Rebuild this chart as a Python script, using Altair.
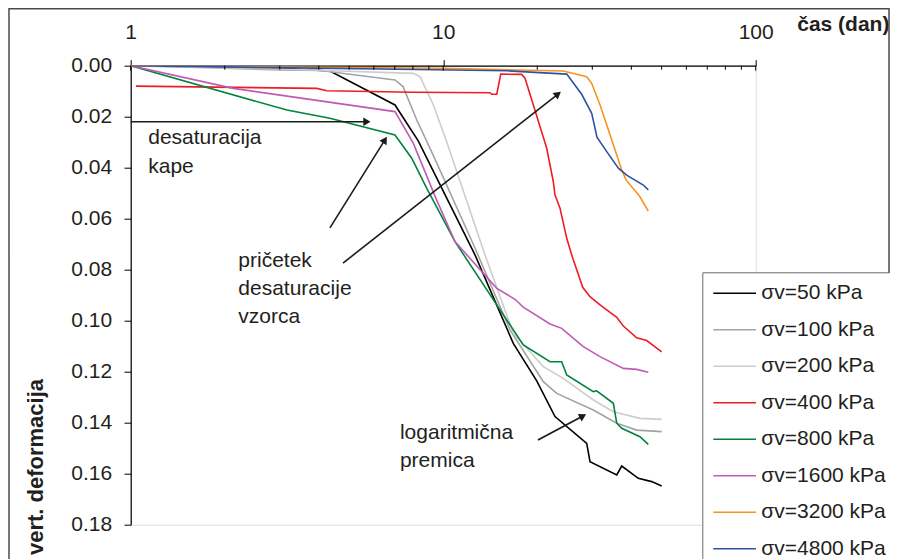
import altair as alt
import pandas as pd

# ---------------- data ----------------
labels = ["σv=50 kPa", "σv=100 kPa", "σv=200 kPa", "σv=400 kPa",
          "σv=800 kPa", "σv=1600 kPa", "σv=3200 kPa", "σv=4800 kPa"]
colors = ["#000000", "#a3a3a3", "#cdcdcd", "#ee1c24",
          "#00843d", "#c05ab4", "#f7941d", "#2e52a4"]

t50 = [1, 2.0, 3.0, 4.34, 7.01, 8.32, 12.64, 16.76, 19.92, 22.79, 28.79, 29.5, 35.92, 37.26, 42.1, 46.47, 50.02]
d50 = [0, 0.0006, 0.001, 0.0021, 0.0154, 0.0295, 0.0742, 0.1089, 0.1236, 0.1376, 0.1481, 0.1553, 0.1605, 0.157, 0.1618, 0.1631, 0.1648]

t100 = [1, 1.667, 3.0, 4.04, 7.01, 7.44, 8.23, 9.28, 12.64, 16.36, 20.91, 23.08, 30.22, 35.92, 41.61, 50.02]
d100 = [0, 0.0007, 0.0017, 0.0019, 0.0056, 0.0082, 0.0213, 0.035, 0.0715, 0.1036, 0.1239, 0.1285, 0.135, 0.1402, 0.1429, 0.1435]

t200 = [1, 3.0, 8.02, 8.43, 9.3, 10.26, 13.61, 16.76, 20.91, 24.23, 30.22, 35.03, 42.62, 50.02]
d200 = [0, 0.0013, 0.003, 0.0043, 0.0154, 0.0298, 0.0742, 0.1049, 0.118, 0.1226, 0.1311, 0.1357, 0.1383, 0.1387]

t400 = [1.04, 3.94, 4.24, 8.02, 14.12, 14.3, 14.84, 15.28, 17.83, 18.27, 19.43, 21.44, 22.51, 22.79, 23.65,
        24.85, 25.78, 27.95, 29.5, 31.76, 35.92, 37.7, 41.61, 44.79, 50.02]
d400 = [0.008, 0.0089, 0.0098, 0.0104, 0.0106, 0.0112, 0.0112, 0.0033, 0.0034, 0.0049, 0.0154, 0.0324, 0.0455, 0.0507, 0.0559,
        0.0677, 0.0742, 0.0869, 0.0906, 0.0938, 0.0987, 0.1021, 0.1067, 0.1078, 0.1122]

t800 = [1, 3.16, 4.34, 7.01, 7.93, 8.86, 10.91, 18.04, 21.97, 23.94, 24.85, 30.22, 30.98, 35.03, 35.92, 37.26, 42.62, 45.32]
d800 = [0, 0.0174, 0.0206, 0.0272, 0.0363, 0.0481, 0.069, 0.1095, 0.1161, 0.1161, 0.1213, 0.1278, 0.1275, 0.1324, 0.1402, 0.1422, 0.1455, 0.1485]

t1600 = [1, 2.13, 7.01, 8.02, 9.53, 10.91, 14.84, 16.97, 18.04, 21.97, 23.94, 28.07, 31.76, 37.7, 41.61, 45.32]
d1600 = [0, 0.0089, 0.018, 0.0304, 0.0527, 0.069, 0.0873, 0.0916, 0.0947, 0.1013, 0.103, 0.1102, 0.1141, 0.1187, 0.1191, 0.1202]

t3200 = [1, 10.0, 24.23, 28.79, 29.87, 31.76, 34.2, 37.26, 38.46, 42.62, 45.32]
d3200 = [0, 0.001, 0.0021, 0.0043, 0.0069, 0.0154, 0.0272, 0.0409, 0.0448, 0.0514, 0.057]

t4800 = [1, 6.28, 15.97, 24.85, 27.74, 29.87, 31.05, 33.37, 36.34, 38.65, 43.69, 45.32]
d4800 = [0, 0.0013, 0.002, 0.0033, 0.0112, 0.0187, 0.028, 0.0337, 0.0402, 0.0429, 0.0468, 0.0487]

series_t = [t50, t100, t200, t400, t800, t1600, t3200, t4800]
series_d = [d50, d100, d200, d400, d800, d1600, d3200, d4800]

x_ticks = [1, 10, 100]
x_minor = [2, 3, 4, 5, 6, 7, 8, 9, 20, 30, 40, 50, 60, 70, 80, 90]
y_ticks = [0, 0.02, 0.04, 0.06, 0.08, 0.10, 0.12, 0.14, 0.16, 0.18]

# annotations
note_text = ["desaturacija", "kape", "pričetek", "desaturacije", "vzorca", "logaritmična", "premica"]
note_x = [1.138, 1.138, 2.21, 2.21, 2.21, 7.27, 7.27]
note_y = [0.0307, 0.0422, 0.0788, 0.0899, 0.1010, 0.1465, 0.1575]

arrow_x = [1.0, 4.34, 4.78, 20.1]
arrow_y = [0.022, 0.0636, 0.0774, 0.1468]
arrow_x2 = [5.70, 6.51, 23.3, 28.0]
arrow_y2 = [0.022, 0.0291, 0.0111, 0.1374]
arrow_angle = [90, 32, 52, 62]

FONT = "Liberation Sans"
TXT = "#231f20"

rows = []
for lab, ts, ds in zip(labels, series_t, series_d):
    for i, (t, d) in enumerate(zip(ts, ds)):
        rows.append({"serie": lab, "x": t, "y": d, "i": i})
df = pd.DataFrame(rows)

xscale = alt.Scale(type="log", domain=[1, 100], nice=False)
yscale = alt.Scale(domain=[0, 0.18], reverse=True, nice=False, zero=False)

x_axis = alt.Axis(orient="top", values=x_ticks, format="d", title="čas (dan)",
                  grid=False, tickSize=6, tickColor="black", tickWidth=1,
                  domainColor="black", domainWidth=1.2,
                  labelFontSize=21, labelFont=FONT, labelColor=TXT,
                  labelPadding=21.4, labelBaseline="alphabetic",
                  labelFlush=False, labelOverlap=False,
                  titleFont=FONT, titleFontSize=21, titleFontWeight="bold", titleColor=TXT,
                  titleX=666, titleY=-35.1, titleAlign="left", titleBaseline="alphabetic",
                  titleAngle=0)
y_axis = alt.Axis(values=y_ticks, format=".2f", title="vert. deformacija",
                  grid=False, tickSize=6.7, tickColor="black", tickWidth=1,
                  domainColor="black", domainWidth=1.2,
                  labelFontSize=21, labelFont=FONT, labelColor=TXT,
                  labelPadding=12.3, labelOverlap=False, labelFlush=False,
                  titleFont=FONT, titleFontSize=22, titleFontWeight="bold", titleColor=TXT,
                  titleX=-95.2, titleY=400.8, titleAngle=270, titleAlign="center",
                  titleBaseline="middle")


def X(field):
    return alt.X(field, type="quantitative", scale=xscale, axis=x_axis, title="čas (dan)")


def Y(field):
    return alt.Y(field, type="quantitative", scale=yscale, axis=y_axis, title="vert. deformacija")


lines = alt.Chart(df).mark_line(strokeWidth=1.6, clip=True).encode(
    x=X("x"),
    y=Y("y"),
    color=alt.Color("serie:N",
                    scale=alt.Scale(domain=labels, range=colors),
                    sort=labels,
                    legend=alt.Legend(orient="none", legendX=571.6, legendY=206.6,
                                      title=None, padding=10,
                                      fillColor="white", strokeColor="#6d6d6d",
                                      symbolType="M-1,0H3.27", symbolSize=400,
                                      symbolStrokeWidth=1.6,
                                      labelFont=FONT, labelFontSize=21, labelColor=TXT,
                                      labelOffset=27, labelLimit=400,
                                      rowPadding=15.5)),
    order="i:Q",
)

# outer frame of the chart
frame = alt.Chart(pd.DataFrame({"a": [0]})).mark_rect(
    fill=None, stroke="#4a4a4a", strokeWidth=1.5).encode(
    x=alt.value(-121.7), x2=alt.value(758.3), y=alt.value(-57), y2=alt.value(520))

# inner ticks of the top axis
tick_major = alt.Chart(pd.DataFrame({"x": x_ticks})).mark_rule(color="black", strokeWidth=1).encode(
    x=X("x"), y=alt.value(0), y2=alt.value(5))
tick_minor = alt.Chart(pd.DataFrame({"x": x_minor})).mark_rule(color="black", strokeWidth=1).encode(
    x=X("x"), y=alt.value(0), y2=alt.value(4))

notes_df = pd.DataFrame({"x": note_x, "y": note_y, "t": note_text})
notes = alt.Chart(notes_df).mark_text(align="left", baseline="alphabetic", font=FONT,
                                      fontSize=21, color=TXT).encode(
    x=X("x"), y=Y("y"), text="t:N")

arrows_df = pd.DataFrame({"x": arrow_x, "y": arrow_y, "x2": arrow_x2, "y2": arrow_y2,
                          "ang": arrow_angle})
arrow_lines = alt.Chart(arrows_df).mark_rule(color="#1a1a1a", strokeWidth=1.6).encode(
    x=X("x"), y=Y("y"), x2="x2:Q", y2="y2:Q")
arrow_heads = alt.Chart(arrows_df).mark_point(shape="triangle-up", filled=True,
                                              color="#1a1a1a", size=70, opacity=1).encode(
    x=X("x2"), y=Y("y2"),
    angle=alt.Angle("ang:Q", scale=None))

chart = alt.layer(lines, tick_major, tick_minor, arrow_lines, arrow_heads, notes, frame).properties(
    width=625, height=459,
    autosize=alt.AutoSizeParams(type="none"),
    padding={"left": 122.7, "top": 57.7, "right": 134.3, "bottom": 34.3},
    background="white",
).configure_view(stroke="#808080", strokeWidth=1.2).configure(font=FONT)

chart.save("out.html", embed_options={"renderer": "svg", "actions": False})
